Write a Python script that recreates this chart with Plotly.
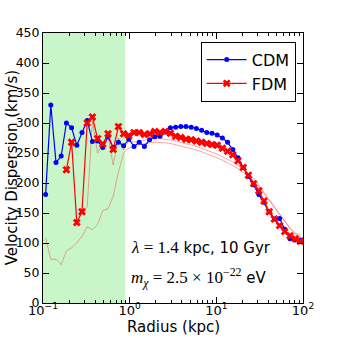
import plotly.graph_objects as go

# radial bins (kpc)
radius = [0.1072, 0.1230, 0.1413, 0.1622, 0.1862, 0.2138, 0.2455, 0.2818, 0.3236, 0.3715,
          0.4266, 0.4898, 0.5623, 0.6457, 0.7413, 0.8511, 0.9772, 1.122, 1.288, 1.479,
          1.698, 1.950, 2.239, 2.570, 2.951, 3.388, 3.890, 4.467, 5.129, 5.888,
          6.761, 7.762, 8.913, 10.23, 11.75, 13.49, 15.49, 17.78, 20.42, 23.44,
          26.92, 30.90, 35.48, 40.74, 46.77, 53.70, 61.66, 70.79, 81.28, 93.33]

cdm = [181, 330, 234, 245, 300, 292, 263, 284, 304, 269,
       270, 259, 277, 259, 268, 262, 273, 261, 268, 261,
       272, 277, 278, 285, 292, 293, 294, 294, 293, 291,
       288, 284, 283, 280, 275, 268, 256, 242, 226, 211,
       197, 181, 168, 152, 140, 141, 123, 107, 105, 105]

fdm = [None, None, None, None, 222, 268, 134, 152, 300, 310,
       274, 265, 282, 256, 294, 282, 279, 284, 284, 281,
       282, 286, 284, 286, 283, 278, 276, 273, 272, 270,
       268, 266, 264, 263, 258, 253, 247, 237, 226, 213,
       199, 187, 170, 152, 140, 129, 119, 112, 107, 103]

# two faint FDM curves drawn without markers
fdm_thin_a = [None, None, None, None, None, None, None, 150, 160, 303,
              250, 267, 278, 230, 275, 255, 272, 268, 270, 272,
              273, 274, 274, 273, 272, 270, 268, 266, 264, 261,
              258, 255, 252, 248, 244, 240, 235, 229, 222, 215,
              208, 196, 184, 172, 160, 148, 136, 125, 117, 113]

fdm_thin_b = [108, 73, 73, 64, 87, 92, 100, 111, 127, 122,
              131, 154, 157, 178, 218, 250, 258, 262, 264, 266,
              267, 268, 268, 267, 266, 264, 262, 260, 258, 255,
              252, 249, 246, 242, 238, 234, 229, 224, 218, 211,
              204, 194, 183, 171, 159, 147, 135, 124, 115, 110]

shade_range = [0.1, 0.885]

fig = go.Figure()

fig.add_vrect(x0=shade_range[0], x1=shade_range[1], fillcolor="#c8f6c8",
              line_width=0, layer="below")

for thin in (fdm_thin_a, fdm_thin_b):
    fig.add_trace(go.Scatter(x=radius, y=thin, mode="lines", showlegend=False,
                             line=dict(color="rgba(240,80,70,0.5)", width=1)))

fig.add_trace(go.Scatter(x=radius, y=cdm, mode="lines+markers", name="CDM",
                         line=dict(color="#0000ff", width=1.2),
                         marker=dict(symbol="circle", size=5, color="#0000ff")))
fig.add_trace(go.Scatter(x=radius, y=fdm, mode="lines+markers", name="FDM",
                         line=dict(color="#ff0000", width=1.2),
                         marker=dict(symbol="x", size=7, color="#ff0000")))

minor_vals = [m * 10 ** e for e in (-1, 0, 1) for m in range(2, 10)]

fig.update_xaxes(
    type="log", range=[-1, 2], automargin=False,
    tickvals=[0.1, 1, 10, 100],
    ticktext=["10<sup>\u22121</sup>", "10<sup>0</sup>", "10<sup>1</sup>", "10<sup>2</sup>"],
    ticks="inside", ticklen=6, tickcolor="black", tickfont=dict(size=13),
    ticklabelstandoff=-5,
    minor=dict(tickvals=minor_vals, ticks="inside", ticklen=3, tickcolor="black"),
    showline=True, linecolor="black", linewidth=1, mirror="allticks",
    showgrid=False, zeroline=False,
)
fig.update_yaxes(
    range=[0, 450], dtick=50, automargin=False,
    ticks="inside", ticklen=6, tickcolor="black", tickfont=dict(size=12.5),
    showline=True, linecolor="black", linewidth=1, mirror="allticks",
    showgrid=False, zeroline=False,
)

# axis titles placed as annotations so they sit where the reference has them
fig.add_annotation(
    x=0.5, y=-0.088, xref="paper", yref="paper", xanchor="center", yanchor="middle",
    showarrow=False, font=dict(size=15, color="black"), text="Radius (kpc)",
)
fig.add_annotation(
    x=-0.118, y=0.5, xref="paper", yref="paper", xanchor="center", yanchor="middle",
    showarrow=False, textangle=-90, font=dict(size=15, color="black"),
    text="Velocity Dispersion (km/s)",
)

serif = "font-family:'Liberation Serif';font-size:17px"
fig.add_annotation(
    x=0.33, y=0.205, xref="paper", yref="paper", xanchor="left", yanchor="middle",
    showarrow=False, font=dict(size=15, color="black"),
    text=f"<span style=\"{serif}\"><i>λ</i> = 1.4</span> kpc, 10 Gyr",
)
fig.add_annotation(
    x=0.33, y=0.094, xref="paper", yref="paper", xanchor="left", yanchor="middle",
    showarrow=False, font=dict(size=15, color="black"),
    text=(f"<span style=\"{serif}\"><i>m</i><sub><i>χ</i></sub> = 2.5 × "
          "10<sup>−22</sup></span> eV"),
)

fig.update_layout(
    width=338, height=338,
    margin=dict(l=43, r=35, t=33, b=35),
    paper_bgcolor="white", plot_bgcolor="white",
    font=dict(family="DejaVu Sans", size=13, color="black"),
    legend=dict(x=0.972, y=0.968, xanchor="right", yanchor="top",
                bgcolor="white", bordercolor="black", borderwidth=1,
                itemwidth=40, font=dict(size=16)),
)

# drop the default body margin so the figure sits at the window's corner
fig.write_html("out.html", config={"displayModeBar": False},
               post_script="document.body.style.margin = '0';")
